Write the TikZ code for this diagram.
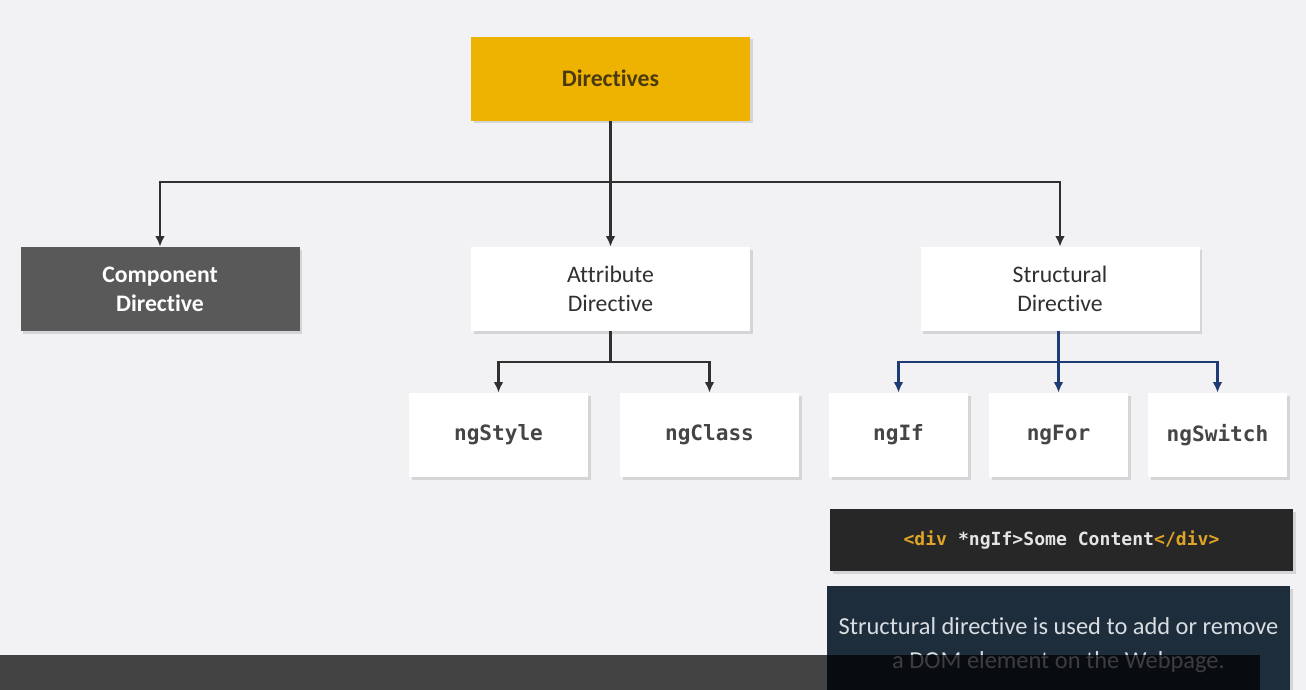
\documentclass[tikz,border=0pt]{standalone}
\usepackage{fontspec}
\setmainfont{Carlito}[Ligatures=NoCommon]
\newfontfamily\codefont{DejaVu Sans Mono}
\usetikzlibrary{arrows.meta,shadows}
\definecolor{paper}{HTML}{F2F1F4}
\definecolor{gold}{HTML}{EEB300}
\definecolor{goldtext}{HTML}{4A3A12}
\definecolor{slate}{HTML}{595959}
\definecolor{ink}{HTML}{303030}
\definecolor{navy}{HTML}{1F3B73}
\definecolor{codebg}{HTML}{272727}
\definecolor{codetag}{HTML}{DFA426}
\definecolor{notebg}{HTML}{1E2D3C}
\definecolor{notetext}{HTML}{D8DDE2}
\tikzset{
  box/.style={minimum width=279*0.02cm,minimum height=84*0.02cm,inner sep=0pt,align=center,
    drop shadow={shadow xshift=1.5pt,shadow yshift=-1.5pt,opacity=.25}},
  leaf/.style={box,fill=white,minimum width=179*0.02cm,font=\codefont\bfseries\fontsize{12}{14}\selectfont,text=ink!90},
  smallleaf/.style={leaf,minimum width=139*0.02cm},
  tree/.style={draw=ink,line width=1.5pt,-{Latex[length=6pt,width=5.5pt]}},
  subtree/.style={tree,draw=navy}
}
\begin{document}
\begin{tikzpicture}[x=0.02cm,y=-0.02cm,font=\fontsize{13.5}{16.5}\selectfont]
\fill[paper] (0,0) rectangle (1306,690); \useasboundingbox (0,0) rectangle (1306,690);
% top level
\node[box,fill=gold,text=goldtext,font=\bfseries\fontsize{13.5}{16}\selectfont] (dir) at (610.5,78.5) {Directives};
\node[box,fill=slate,text=white,font=\bfseries\fontsize{13.5}{16.5}\selectfont] (comp) at (160,289) {Component\\Directive};
\node[box,fill=white,text=ink] (attr) at (610.5,289) {Attribute\\Directive};
\node[box,fill=white,text=ink] (struct) at (1060,289) {Structural\\Directive};
\coordinate (top) at (610.5,182);
\draw[tree] (dir.south) -- (attr.north);
\draw[tree] (top) -| (comp.north); \draw[tree] (top) -| (struct.north);
% attribute directives
\node[leaf] (style) at (498.5,435) {ngStyle};
\node[leaf] (class) at (709.5,435) {ngClass};
\coordinate (amid) at (610.5,362);
\draw[ink,line width=1.5pt] (attr.south) -- (amid);
\draw[tree] (amid) -| (style.north); \draw[tree] (amid) -| (class.north);
% structural directives
\node[smallleaf] (ngif) at (898.5,435) {ngIf};
\node[smallleaf] (ngfor) at (1058.5,435) {ngFor};
\node[smallleaf] (ngswitch) at (1217.5,435) {ngSwitch};
\coordinate (smid) at (1058.5,362);
\draw[navy,line width=1.5pt] (struct.south -| smid) -- (smid);
\draw[subtree] (smid) -- (ngfor.north);
\draw[subtree] (smid) -| (ngif.north); \draw[subtree] (smid) -| (ngswitch.north);
% example and note
\node[box,fill=codebg,minimum width=463*0.02cm,minimum height=62*0.02cm,font=\codefont\bfseries\fontsize{10.3}{12}\selectfont,text=white!90!black] (code) at (1061.5,540)
  {\textcolor{codetag}{<div} *ngIf>Some Content\textcolor{codetag}{</div>}};
\node[box,fill=notebg,minimum width=463*0.02cm,minimum height=118*0.02cm,text=notetext,font=\fontsize{13.9}{19.3}\selectfont] (note) at (1058.5,645)
  {Structural directive is used to add or remove\\a DOM element on the Webpage.};
% caption bar
\fill[black,opacity=.72] (0,655) rectangle (1260,690);
\end{tikzpicture}
\end{document}
